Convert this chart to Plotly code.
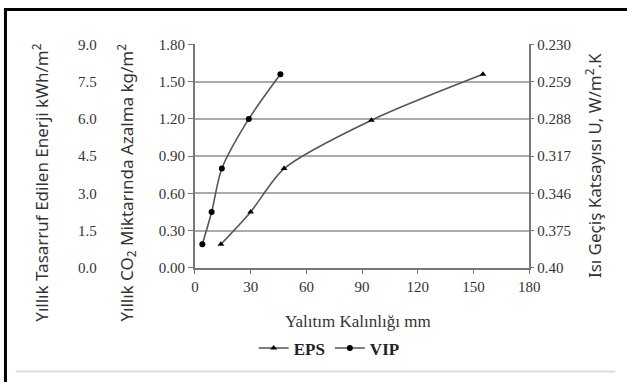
import plotly.graph_objects as go

# Data
eps_x = [14, 30, 48, 95, 155]
eps_y = [0.19, 0.45, 0.80, 1.19, 1.56]
vip_x = [4, 9, 14.5, 29, 46]
vip_y = [0.19, 0.45, 0.80, 1.20, 1.56]

x_ticks = [0, 30, 60, 90, 120, 150, 180]
co2_ticks = [0.00, 0.30, 0.60, 0.90, 1.20, 1.50, 1.80]
energy_ticks = [0.0, 1.5, 3.0, 4.5, 6.0, 7.5, 9.0]
u_ticktext = ["0.40", "0.375", "0.346", "0.317", "0.288", "0.259", "0.230"]

W, H = 638, 390
def px(x):
    return x / W
def py(y):
    return (H - y) / H

SERIF = "Liberation Serif"
SANS = "Noto Sans"
LINE_C = "#555555"
AX_C = "#777777"
GRID_C = "#aaaaaa"

fig = go.Figure()
fig.add_trace(go.Scatter(
    x=eps_x, y=eps_y, name="<b>EPS</b>", mode="lines+markers",
    line=dict(color=LINE_C, width=1.6, shape="spline", smoothing=0.8),
    marker=dict(symbol="triangle-up", size=6, color="black"),
))
fig.add_trace(go.Scatter(
    x=vip_x, y=vip_y, name="<b>VIP</b>", mode="lines+markers",
    line=dict(color=LINE_C, width=1.6, shape="spline", smoothing=0.8),
    marker=dict(symbol="circle", size=6, color="black"),
))
# helper (empty) traces so the secondary axes are drawn
fig.add_trace(go.Scatter(x=[None], y=[None], yaxis="y2", showlegend=False, hoverinfo="skip"))
fig.add_trace(go.Scatter(x=[None], y=[None], yaxis="y3", showlegend=False, hoverinfo="skip"))

x0, x1 = px(195.5), px(538)
y0, y1 = py(271), py(38)

fig.update_layout(
    width=W, height=H,
    margin=dict(l=0, r=0, t=0, b=0),
    paper_bgcolor="white", plot_bgcolor="white",
    showlegend=True,
    legend=dict(orientation="h", x=px(333), y=py(355), xanchor="center", yanchor="middle",
                font=dict(family=SERIF, size=17, color="#222"), itemwidth=30,
                tracegroupgap=0, bgcolor="rgba(0,0,0,0)"),
    xaxis=dict(domain=[x0, x1], range=[0, 180], tickvals=x_ticks,
               showline=True, linecolor=AX_C, linewidth=2, ticks="outside",
               ticklen=4, tickcolor=AX_C, showgrid=False, zeroline=False,
               tickfont=dict(family=SERIF, size=15, color="#333"), anchor="y"),
    yaxis=dict(domain=[y0, y1], range=[0, 1.8], tickvals=co2_ticks, tickformat=".2f",
               showline=True, linecolor=AX_C, linewidth=2, ticks="outside",
               ticklen=5, tickcolor=AX_C, showgrid=True, gridcolor=GRID_C, gridwidth=1.5,
               zeroline=False, tickfont=dict(family=SERIF, size=15, color="#333"), anchor="x"),
    yaxis2=dict(domain=[y0, y1], range=[0, 9], tickvals=energy_ticks, tickformat=".1f",
                overlaying="y", side="left", anchor="free", position=px(95),
                showline=False, ticks="", showgrid=False, zeroline=False,
                tickfont=dict(family=SERIF, size=15, color="#333")),
    yaxis3=dict(domain=[y0, y1], range=[0, 6], tickvals=list(range(len(u_ticktext))),
                ticktext=u_ticktext, overlaying="y", side="right", anchor="x",
                showline=True, linecolor=AX_C, linewidth=2, ticks="outside", ticklen=3,
                tickcolor=AX_C, showgrid=False, zeroline=False,
                tickfont=dict(family=SERIF, size=15, color="#333")),
)

annots = [
    dict(text="Yıllık Tasarruf Edilen Enerji kWh/m<sup>2</sup>", x=px(37), y=py(182)),
    dict(text="Yıllık CO<sub>2</sub> Miktarında Azalma kg/m<sup>2</sup>", x=px(125), y=py(182)),
    dict(text="Isı Geçiş Katsayısı U, W/m<sup>2</sup>.K", x=px(603), y=py(164)),
]
for a in annots:
    fig.add_annotation(text=a["text"], x=a["x"], y=a["y"], xref="paper", yref="paper",
                       xanchor="center", yanchor="middle", textangle=-90, showarrow=False,
                       font=dict(family=SANS, size=17, color="#333"))
fig.add_annotation(text="Yalıtım Kalınlığı mm", x=px(363), y=py(327), xref="paper", yref="paper",
                   xanchor="center", yanchor="middle", showarrow=False,
                   font=dict(family=SERIF, size=17, color="#333"))

# frame lines
fig.add_shape(type="line", xref="paper", yref="paper", x0=px(1.5), x1=px(1.5), y0=0, y1=py(1),
              line=dict(color="black", width=3))
fig.add_shape(type="line", xref="paper", yref="paper", x0=0, x1=1, y0=py(1.5), y1=py(1.5),
              line=dict(color="black", width=3))
fig.add_shape(type="line", xref="paper", yref="paper", x0=px(12), x1=px(626), y0=py(379), y1=py(379),
              line=dict(color="#dddddd", width=2))

css_js = (
    "document.documentElement.style.margin='0';"
    "document.documentElement.style.padding='0';"
    "document.documentElement.style.overflow='hidden';"
    "document.body.style.margin='0';"
    "document.body.style.padding='0';"
    "document.body.style.overflow='hidden';"
    "var d=document.getElementById('{plot_id}');"
    "d.style.position='absolute';d.style.left='0px';d.style.top='0px';"
)
fig.write_html("out.html", config={"displayModeBar": False}, post_script=css_js)
